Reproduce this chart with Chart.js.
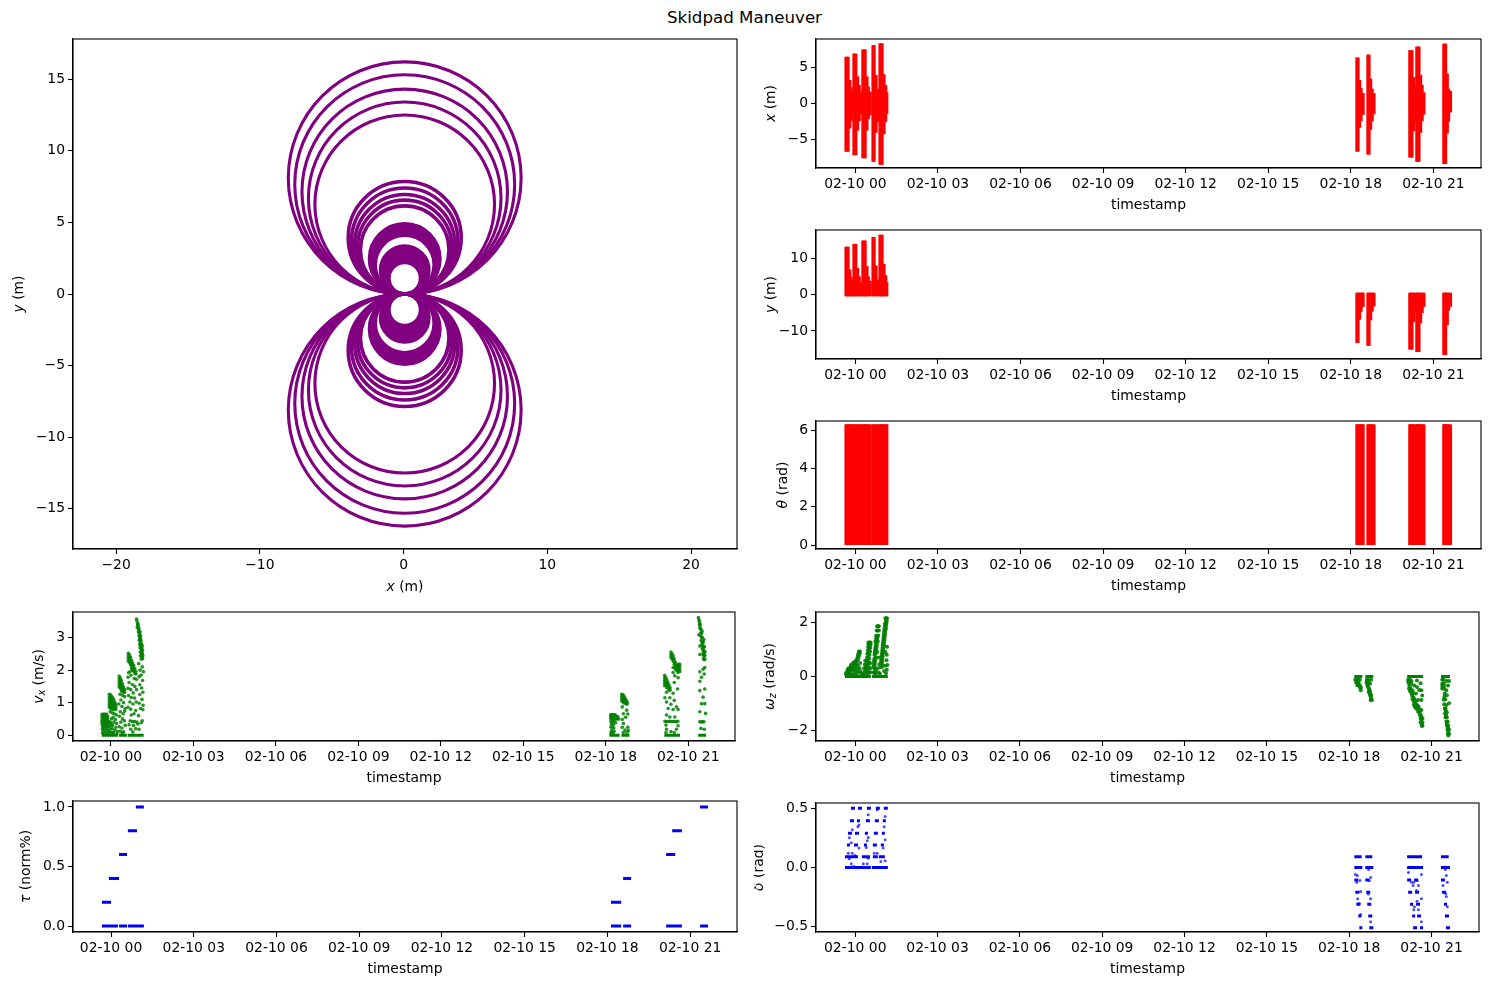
<!DOCTYPE html>
<html>
<head>
<meta charset="utf-8">
<title>Skidpad Maneuver</title>
<script src="https://cdn.jsdelivr.net/npm/chart.js@4"></script>
<style>
  body { margin: 0; background: #fff; width: 1489px; height: 985px; position: relative; overflow: hidden; }
  canvas { position: absolute; }
  #title { position: absolute; left: 0; width: 1489px; top: 8px; text-align: center; font: 16.67px "DejaVu Sans"; color: #000; }
</style>
</head>
<body>
<div id="title">Skidpad Maneuver</div>
<script>
// time axis, hours after 02-10 00:00
const hourTicks = [0, 3, 6, 9, 12, 15, 18, 21];
const hourLabels = ['02-10 00', '02-10 03', '02-10 06', '02-10 09', '02-10 12', '02-10 15', '02-10 18', '02-10 21'];

// trajectory circles, one row per lap, all through the origin
const circleX = [
  [.08,5.81,8.18,5.81,.08,-5.65,-8.02,-5.65],
  [.08,5.49,7.73,5.49,.08,-5.33,-7.57,-5.33],
  [.08,5.14,7.23,5.14,.08,-4.98,-7.07,-4.98],
  [.08,4.82,6.78,4.82,.08,-4.66,-6.62,-4.66],
  [.08,4.5,6.33,4.5,.08,-4.34,-6.17,-4.34],
  [.08,2.86,4.01,2.86,.08,-2.7,-3.85,-2.7],
  [.08,2.7,3.78,2.7,.08,-2.54,-3.62,-2.54],
  [.08,2.54,3.56,2.54,.08,-2.38,-3.4,-2.38],
  [.08,2.4,3.36,2.4,.08,-2.24,-3.2,-2.24],
  [.08,2.25,3.16,2.25,.08,-2.09,-3,-2.09],
  [.08,1.81,2.53,1.81,.08,-1.65,-2.37,-1.65],
  [.08,1.74,2.43,1.74,.08,-1.58,-2.27,-1.58],
  [.08,1.67,2.33,1.67,.08,-1.51,-2.17,-1.51],
  [.08,1.6,2.23,1.6,.08,-1.44,-2.07,-1.44],
  [.08,1.53,2.13,1.53,.08,-1.37,-1.97,-1.37],
  [.08,1.26,1.76,1.26,.08,-1.1,-1.6,-1.1],
  [.08,1.19,1.66,1.19,.08,-1.03,-1.5,-1.03],
  [.08,1.12,1.56,1.12,.08,-.96,-1.4,-.96],
  [.08,1.05,1.46,1.05,.08,-.89,-1.3,-.89],
  [.08,.98,1.36,.98,.08,-.82,-1.2,-.82],
  [.08,.91,1.26,.91,.08,-.75,-1.1,-.75],
  [.08,.86,1.18,.86,.08,-.7,-1.02,-.7]
];
const circleYUp = [
  [0,2.37,8.1,13.83,16.2,13.83,8.1,2.37],
  [0,2.24,7.65,13.06,15.3,13.06,7.65,2.24],
  [0,2.09,7.15,12.21,14.3,12.21,7.15,2.09],
  [0,1.96,6.7,11.44,13.4,11.44,6.7,1.96],
  [0,1.83,6.25,10.67,12.5,10.67,6.25,1.83],
  [0,1.15,3.93,6.7,7.85,6.7,3.93,1.15],
  [0,1.08,3.7,6.32,7.4,6.32,3.7,1.08],
  [0,1.02,3.48,5.93,6.95,5.93,3.48,1.02],
  [0,.96,3.28,5.59,6.55,5.59,3.28,.96],
  [0,.9,3.08,5.25,6.15,5.25,3.08,.9],
  [0,.72,2.45,4.18,4.9,4.18,2.45,.72],
  [0,.69,2.35,4.01,4.7,4.01,2.35,.69],
  [0,.66,2.25,3.84,4.5,3.84,2.25,.66],
  [0,.63,2.15,3.67,4.3,3.67,2.15,.63],
  [0,.6,2.05,3.5,4.1,3.5,2.05,.6],
  [0,.49,1.68,2.86,3.35,2.86,1.68,.49],
  [0,.46,1.58,2.69,3.15,2.69,1.58,.46],
  [0,.43,1.48,2.52,2.95,2.52,1.48,.43],
  [0,.4,1.38,2.35,2.75,2.35,1.38,.4],
  [0,.37,1.28,2.18,2.55,2.18,1.28,.37],
  [0,.34,1.18,2.01,2.35,2.01,1.18,.34],
  [0,.32,1.1,1.88,2.2,1.88,1.1,.32]
];
const circleYDown = [
  [0,-2.37,-8.1,-13.83,-16.2,-13.83,-8.1,-2.37],
  [0,-2.24,-7.65,-13.06,-15.3,-13.06,-7.65,-2.24],
  [0,-2.09,-7.15,-12.21,-14.3,-12.21,-7.15,-2.09],
  [0,-1.96,-6.7,-11.44,-13.4,-11.44,-6.7,-1.96],
  [0,-1.83,-6.25,-10.67,-12.5,-10.67,-6.25,-1.83],
  [0,-1.15,-3.93,-6.7,-7.85,-6.7,-3.93,-1.15],
  [0,-1.08,-3.7,-6.32,-7.4,-6.32,-3.7,-1.08],
  [0,-1.02,-3.48,-5.93,-6.95,-5.93,-3.48,-1.02],
  [0,-.96,-3.28,-5.59,-6.55,-5.59,-3.28,-.96],
  [0,-.9,-3.08,-5.25,-6.15,-5.25,-3.08,-.9],
  [0,-.72,-2.45,-4.18,-4.9,-4.18,-2.45,-.72],
  [0,-.69,-2.35,-4.01,-4.7,-4.01,-2.35,-.69],
  [0,-.66,-2.25,-3.84,-4.5,-3.84,-2.25,-.66],
  [0,-.63,-2.15,-3.67,-4.3,-3.67,-2.15,-.63],
  [0,-.6,-2.05,-3.5,-4.1,-3.5,-2.05,-.6],
  [0,-.49,-1.68,-2.86,-3.35,-2.86,-1.68,-.49],
  [0,-.46,-1.58,-2.69,-3.15,-2.69,-1.58,-.46],
  [0,-.43,-1.48,-2.52,-2.95,-2.52,-1.48,-.43],
  [0,-.4,-1.38,-2.35,-2.75,-2.35,-1.38,-.4],
  [0,-.37,-1.28,-2.18,-2.55,-2.18,-1.28,-.37],
  [0,-.34,-1.18,-2.01,-2.35,-2.01,-1.18,-.34],
  [0,-.32,-1.1,-1.88,-2.2,-1.88,-1.1,-.32]
];

// pose panels: the samples are so dense they read as vertical stripes
const stripeHours = [
  -.338,-.3,-.265,-.205,-.157,-.108,-.05,.014,.08,.14,.2,.275,.315,.352,.42,.47,.535,
  .642,.679,.75,.825,.896,.932,.969,1.04,1.1,1.14,
  18.223,18.26,18.32,18.37,18.42,18.445,
  18.623,18.66,18.72,18.775,18.84,
  20.145,20.182,20.22,20.28,20.335,20.4,20.437,20.474,20.535,20.59,20.655,
  21.38,21.415,21.442,21.503,21.55,21.62
];
const xHigh = [
  6.4,6.4,6.4,3.2,2.2,1.6,6.85,6.85,3.7,2.5,1.5,7.4,7.4,7.4,3.7,2.3,1.6,
  8,8,3.9,2,8.25,8.25,8.25,4,2.5,1.5,
  6.3,6.3,3.2,2.1,1.4,1.4,
  6.7,6.7,3.4,2,1.4,
  7.3,7.3,7.3,3.6,2.4,7.8,7.8,7.8,3.9,2.5,1.5,
  8.2,8.2,8.2,4.1,2,1.7
];
const xLow = [
  -6.6,-6.6,-6.6,-3.4,-2.4,-1.6,-7.1,-7.1,-3.7,-2.4,-1.4,-7.5,-7.5,-7.5,-3.7,-2.1,-1.6,
  -8,-8,-4,-2.5,-8.4,-8.4,-8.4,-4.2,-2.5,-1.4,
  -6.6,-6.6,-3.3,-2.4,-1.5,-1.5,
  -7,-7,-3.6,-2.4,-1.45,
  -7.4,-7.4,-7.4,-3.8,-2.5,-8,-8,-8,-4,-2.4,-1.5,
  -8.3,-8.3,-8.3,-4.1,-2.5,-1.2
];
const yHigh = [
  13,13,13,6.8,4.7,3.6,13.8,13.8,7.2,4.9,3.1,14.7,14.7,14.7,7.7,4.9,3.7,
  15.7,15.7,7.9,4,16.3,16.3,16.3,8.3,5.2,3.3,
  .4,.4,.4,.4,.4,.4,
  .4,.4,.4,.4,.4,
  .4,.4,.4,.4,.4,.4,.4,.4,.4,.4,.4,
  .4,.4,.4,.4,.4,.4
];
const yLow = [
  -.4,-.4,-.4,-.4,-.4,-.4,-.4,-.4,-.4,-.4,-.4,-.4,-.4,-.4,-.4,-.4,-.4,
  -.4,-.4,-.4,-.4,-.4,-.4,-.4,-.4,-.4,-.4,
  -13.2,-13.2,-6.8,-4.7,-3.3,-3.3,
  -14,-14,-7,-4.6,-3.2,
  -15,-15,-15,-7.5,-4.8,-15.7,-15.7,-15.7,-7.8,-5,-3.3,
  -16.5,-16.5,-16.5,-8.3,-4.3,-3.3
];
const thetaHigh = [
  6.28,6.28,6.28,6.28,6.28,6.28,6.28,6.28,6.28,6.28,6.28,6.28,6.28,6.28,6.28,6.28,6.28,
  6.28,6.28,6.28,6.28,6.28,6.28,6.28,6.28,6.28,6.28,
  6.28,6.28,6.28,6.28,6.28,6.28,
  6.28,6.28,6.28,6.28,6.28,
  6.28,6.28,6.28,6.28,6.28,6.28,6.28,6.28,6.28,6.28,6.28,
  6.28,6.28,6.28,6.28,6.28,6.28
];
const thetaLow = [
  0,0,0,0,0,0,0,0,0,0,0,0,0,0,0,0,0,
  0,0,0,0,0,0,0,0,0,0,
  0,0,0,0,0,0,
  0,0,0,0,0,
  0,0,0,0,0,0,0,0,0,0,0,
  0,0,0,0,0,0
];

// longitudinal speed samples [hour, m/s], morning runs then evening runs
const vxMorning = [
  [-.32,.64],[-.28,.64],[-.24,.64],[-.2,.64],[-.16,.64],[-.32,.58],[-.27,.58],[-.22,.58],[-.17,.58],[-.12,.58],
  [-.32,.52],[-.27,.52],[-.22,.52],[-.17,.52],[-.12,.52],[-.32,.46],[-.27,.46],[-.22,.46],[-.17,.46],[-.12,.46],
  [-.32,.4],[-.27,.4],[-.22,.4],[-.17,.4],[-.12,.4],[-.32,.34],[-.27,.34],[-.22,.34],[-.17,.34],[-.12,.34],
  [-.31,.27],[-.26,.24],[-.2,.27],[-.14,.24],[-.09,.3],[-.31,.18],[-.23,.16],[-.16,.19],[-.1,.14],[-.29,.1],
  [-.19,.09],[-.13,.06],[-.3,.06],[-.05,.41],[-.01,.38],[-.06,.27],[.02,.32],[-.03,.19],[.04,.2],[0,.09],[-.07,.1],[.05,.07],
  [-.06,1.26],[-.06,1.18],[-.06,1.1],[-.06,1.02],[-.06,.94],[-.06,.86],[-.02,1.24],[-.02,1.16],[-.02,1.08],[-.02,1],[-.02,.92],[-.02,.84],
  [.02,1.2],[.02,1.12],[.02,1.04],[.02,.96],[.02,.88],[.02,.8],[.06,1.15],[.06,1.07],[.06,.99],[.06,.91],[.06,.83],
  [.1,1.1],[.1,1.02],[.1,.94],[.1,.86],[.1,.78],[.14,1.02],[.14,.94],[.14,.86],[.18,.95],[.18,.87],[.18,.79],
  [-.03,.72],[.05,.68],[.12,.66],[.2,.62],[.08,.55],[.16,.48],[.02,.5],[.11,.4],[.21,.36],[.06,.3],[.18,.24],[.13,.16],[.23,.12],[.09,.08],[.22,.05],
  [.3,1.82],[.3,1.74],[.3,1.66],[.3,1.58],[.3,1.5],[.34,1.76],[.34,1.68],[.34,1.6],[.34,1.52],[.34,1.44],
  [.38,1.68],[.38,1.6],[.38,1.52],[.38,1.44],[.38,1.36],[.42,1.58],[.42,1.5],[.42,1.42],[.42,1.34],[.46,1.48],[.46,1.4],[.46,1.32],[.5,1.4],[.5,1.32],
  [.33,1.26],[.43,1.22],[.5,1.18],[.36,1.08],[.46,1],[.29,.96],[.4,.88],[.52,.82],[.34,.72],[.44,.66],[.5,.74],[.31,.58],[.42,.5],[.36,.4],[.49,.44],[.3,.26],[.4,.22],[.52,.3],[.34,.12],[.46,.1],[.42,.06],
  [.63,2.52],[.63,2.44],[.63,2.36],[.63,2.28],[.67,2.48],[.67,2.4],[.67,2.32],[.67,2.24],[.71,2.4],[.71,2.32],[.71,2.24],[.71,2.16],
  [.75,2.3],[.75,2.22],[.75,2.14],[.75,2.06],[.79,2.22],[.79,2.14],[.79,2.06],[.79,1.98],[.83,2.14],[.83,2.06],[.83,1.98],[.87,2.04],[.87,1.96],[.87,1.9],[.91,1.96],[.91,1.88],
  [.64,1.92],[.7,1.96],[.62,1.78],[.73,1.84],[.85,1.74],[.93,1.72],[.66,1.62],[.78,1.56],[.87,1.5],[.62,1.44],[.72,1.4],[.93,1.4],[.81,1.3],[.64,1.22],[.74,1.16],[.86,1.14],[.69,1.02],[.92,1.02],[.8,.96],[.62,.86],[.72,.8],[.9,.76],
  [.84,.66],[.74,.62],[1,.6],[.7,.44],[.78,.42],[.86,.42],[.94,.4],[.66,.32],[.82,.3],[.98,.34],[.72,.18],[.9,.2],[.8,.1],[1.02,.18],[1.1,.38],[1.14,.44],
  [.93,3.57],[.95,3.5],[.97,3.42],[.99,3.42],[.96,3.32],[.99,3.28],[1.02,3.3],[1,3.18],[1.03,3.16],[1.06,3.18],[1.02,3.05],[1.05,3.04],[1.08,3.06],[1.03,2.92],[1.06,2.92],[1.09,2.92],
  [1.05,2.8],[1.08,2.8],[1.11,2.8],[1.06,2.68],[1.09,2.68],[1.12,2.68],[1.07,2.56],[1.1,2.56],[1.13,2.56],[1.08,2.44],[1.11,2.44],[1.14,2.44],[1.15,2.35],[1.14,2.5],
  [.98,3.38],[1.01,3.24],[1.04,3.1],[1.07,2.98],[1.08,2.86],[1.1,2.74],[1.11,2.62],[1.12,2.5],[1.13,2.38],[1.1,2.34],[1.07,2.74],[1.05,2.98],[1.16,2.44],[1.15,2.62],[1.14,2.74],
  [1.01,2.2],[1.14,2.1],[1.06,2],[1.18,1.95],[1.03,1.8],[1.1,1.85],[1.15,1.68],[1.05,1.55],[1.12,1.45],[1.16,1.32],[1.05,1.25],[1.13,1.1],[1.03,.98],[1.17,.92],[1.08,.82],[1.16,.78]
];
const vxEvening = [
  [18.18,.63],[18.22,.63],[18.26,.63],[18.3,.63],[18.34,.63],[18.18,.57],[18.23,.57],[18.28,.57],[18.33,.57],[18.38,.57],[18.43,.57],
  [18.18,.5],[18.23,.5],[18.28,.5],[18.36,.5],[18.42,.5],[18.47,.5],
  [18.19,.42],[18.25,.4],[18.3,.44],[18.2,.34],[18.28,.32],[18.18,.25],[18.24,.24],[18.29,.22],[18.36,.38],[18.21,.14],[18.3,.12],[18.19,.07],[18.27,.07],
  [18.58,1.26],[18.58,1.19],[18.58,1.12],[18.58,1.05],[18.62,1.24],[18.62,1.17],[18.62,1.1],[18.62,1.03],[18.66,1.2],[18.66,1.13],[18.66,1.06],[18.66,.99],
  [18.7,1.14],[18.7,1.07],[18.7,1],[18.74,1.08],[18.74,1.01],[18.74,.96],[18.78,1.02],[18.78,.96],
  [18.6,.87],[18.76,.77],[18.64,.66],[18.8,.65],[18.6,.48],[18.72,.55],[18.64,.36],[18.8,.24],[18.6,.24],[18.7,.16],[18.82,.14],[18.64,.08],[18.77,.08],
  [20.14,1.84],[20.14,1.76],[20.14,1.68],[20.14,1.6],[20.14,1.52],[20.18,1.78],[20.18,1.7],[20.18,1.62],[20.18,1.54],
  [20.22,1.7],[20.22,1.62],[20.22,1.54],[20.22,1.46],[20.26,1.62],[20.26,1.54],[20.26,1.46],[20.3,1.54],[20.3,1.46],[20.3,1.38],[20.34,1.46],[20.34,1.38],
  [20.21,1.32],[20.45,1.29],[20.15,1.15],[20.33,1.15],[20.49,1.07],[20.21,1.02],[20.37,.95],[20.57,.87],[20.27,.82],[20.45,.79],[20.63,.79],[20.21,.62],[20.51,.56],[20.33,.56],
  [20.15,.43],[20.2,.42],[20.27,.42],[20.32,.43],[20.38,.42],[20.44,.42],[20.5,.42],[20.57,.41],[20.62,.43],[20.19,.31],[20.63,.29],[20.21,.18],[20.57,.18],[20.37,.11],[20.19,.08],[20.49,.08],
  [20.37,2.56],[20.37,2.48],[20.37,2.4],[20.41,2.5],[20.41,2.42],[20.41,2.34],[20.45,2.44],[20.45,2.36],[20.45,2.28],[20.49,2.34],[20.49,2.26],[20.49,2.18],
  [20.53,2.24],[20.53,2.16],[20.53,2.08],[20.57,2.16],[20.57,2.08],[20.57,2],[20.61,2.14],[20.61,2.06],[20.61,1.98],[20.65,2.18],[20.65,2.1],[20.65,2.02],[20.65,1.96],[20.69,2.18],[20.69,2.1],[20.69,2.02],[20.69,1.96],
  [20.45,2.08],[20.54,2.03],[20.45,1.93],[20.63,1.93],[20.51,1.83],[20.63,1.77],[20.49,1.62],[20.61,1.42],
  [21.37,3.62],[21.39,3.55],[21.4,3.5],[21.42,3.44],[21.41,3.4],[21.43,3.38],[21.44,3.28],[21.46,3.26],[21.46,3.15],[21.49,3.14],[21.48,3.02],[21.51,3],[21.5,2.88],[21.53,2.88],
  [21.52,2.74],[21.55,2.74],[21.54,2.6],[21.57,2.6],[21.56,2.45],[21.59,2.46],[21.58,2.32],[21.61,2.34],[21.6,2.45],[21.58,2.55],[21.56,2.7],[21.54,2.85],
  [21.42,3.3],[21.45,3.06],[21.47,2.92],[21.49,2.8],[21.51,2.66],[21.53,2.5],[21.55,2.36],[21.57,2.94],[21.59,2.72],[21.61,2.56],[21.5,3.2],
  [21.42,2.48],[21.42,2.74],[21.38,3.09],[21.54,2.03],[21.6,2.08],[21.42,1.95],[21.58,1.88],[21.48,1.78],[21.42,1.66],[21.6,1.42],[21.42,1.37],[21.54,1.17],[21.48,.97],[21.6,.97],[21.42,.72],[21.63,.67],
  [21.42,.41],[21.47,.41],[21.52,.41],[21.57,.41],[21.46,.21],[21.58,.18]
];
const vxRestStart = [-.33,.29,.61,18.13,18.57,20.13,21.36];
const vxRestEnd = [.25,.58,1.19,18.5,18.86,20.7,21.65];
const vxRestLevel = [0,0,0,0,0,0,0];

// yaw rate samples [hour, rad/s]
const wzMorning = [
  [-.34,.08],[-.3,.08],[-.26,.08],[-.22,.08],[-.18,.08],[-.14,.08],[-.1,.08],[-.06,.08],[-.32,.16],[-.28,.16],[-.24,.2],[-.2,.2],[-.16,.24],[-.12,.24],[-.08,.24],
  [-.28,.26],[-.24,.3],[-.2,.3],[-.16,.34],[-.12,.34],[-.08,.34],[-.04,.34],[-.16,.42],[-.12,.42],[-.08,.42],[-.04,.46],[0,.46],[.04,.46],[-.08,.5],[-.04,.52],[0,.56],[.04,.56],
  [.06,.62],[.1,.62],[.08,.7],[.12,.7],[.1,.78],[.14,.78],[.12,.86],[.16,.86],[.13,.92],[.17,.92],[0,.2],[.04,.12],[.08,.24],[.12,.14],[.16,.3],[.1,.4],[.18,.5],[.02,.32],[.2,.18],[.24,.1],
  [.3,.08],[.34,.14],[.36,.22],[.4,.16],[.44,.1],[.38,.34],[.42,.3],[.46,.24],[.5,.14],[.4,.46],[.44,.44],[.48,.36],[.42,.58],[.46,.58],[.5,.5],[.43,.7],[.47,.72],[.51,.66],[.44,.84],[.48,.84],[.52,.8],
  [.46,.96],[.5,.96],[.54,.92],[.47,1.08],[.51,1.08],[.55,1.06],[.48,1.18],[.52,1.18],[.56,1.18],[.48,1.25],[.52,1.25],[.56,1.25],[.32,.3],[.35,.44],[.36,.58],[.55,.3],[.54,.5],[.55,.16],
  [.86,1.85],[.8,1.85],[.83,1.85],[.78,1.7],[.82,1.7],[.86,1.7],[.76,1.5],[.8,1.5],[.84,1.5],[.74,1.3],[.78,1.3],[.82,1.3],[.74,1.1],[.78,1.1],[.72,.95],[.76,.95],[.7,.8],[.74,.7],[.68,.55],[.72,.5],[.66,.35],[.7,.3],[.66,.16],[.7,.12],
  [.76,1.4],[.8,1.4],[.75,1.2],[.79,1.2],[.73,1.02],[.77,1.02],[.71,.88],[.75,.85],[.69,.65],[.73,.6],[.67,.45],[.71,.4],
  [1.16,2.15],[1.1,2.15],[1.13,2.15],[1.14,1.95],[1.08,1.95],[1.11,1.95],[1.12,1.75],[1.06,1.75],[1.09,1.75],[1.04,1.55],[1.09,1.55],[1.02,1.35],[1.07,1.35],[1,1.15],[1.05,1.15],[.98,.95],[1.03,.95],[.96,.75],[1,.75],[.94,.55],[.98,.55],[.93,.35],[.97,.35],
  [1.12,2.05],[1.15,2.05],[1.08,1.85],[1.12,1.85],[1.05,1.65],[1.09,1.65],[1.03,1.45],[1.07,1.45],[1.01,1.25],[1.05,1.25],[.99,1.05],[1.03,1.05],[.97,.85],[1.01,.85],[.95,.65],[.99,.65],[.94,.45],[.98,.45],
  [1.1,.9],[1.14,.6],[1.08,.4],[1.15,.25],[.85,.7],[.88,.45],[.82,.3],[.86,.15],[1.05,.2],[1.12,.12],[.9,.1],[.76,.12],[1.16,1.1],[1.15,.8],[1.17,.42],[.8,.9],[.75,.22]
];
const wzEvening = [
  [18.22,-.12],[18.27,-.12],[18.32,-.12],[18.39,-.12],[18.25,-.22],[18.3,-.22],[18.34,-.22],[18.3,-.32],[18.34,-.32],[18.39,-.32],[18.39,-.41],[18.43,-.41],[18.42,-.51],
  [18.64,-.12],[18.69,-.12],[18.8,-.12],[18.63,-.22],[18.71,-.22],[18.76,-.27],[18.68,-.36],[18.73,-.46],[18.71,-.56],[18.76,-.56],[18.76,-.68],[18.8,-.68],[18.8,-.8],[18.83,-.87],[18.78,-.87],
  [18.66,-.3],[18.7,-.42],[18.74,-.52],[18.74,-.62],[18.78,-.74],[18.66,-.16],
  [20.15,-.12],[20.21,-.12],[20.27,-.17],[20.47,-.15],[20.18,-.27],[20.26,-.27],[20.37,-.33],[20.63,-.51],[20.18,-.45],[20.24,-.45],[20.47,-.39],[20.27,-.63],[20.33,-.63],[20.43,-.63],[20.63,-.87],[20.35,-.78],[20.43,-.93],[20.35,-.93],[20.51,-.87],[20.39,-1.12],[20.47,-1.18],[20.63,-1.24],[20.51,-1.3],[20.57,-1.3],[20.57,-1.42],[20.63,-1.48],[20.63,-1.6],[20.64,-1.72],[20.64,-1.82],
  [20.22,-.54],[20.29,-.72],[20.4,-1.02],[20.43,-1.05],[20.44,-1.18],[20.54,-1.2],[20.6,-1.4],[20.67,-1.55],[20.6,-1.55],[20.67,-1.7],[20.6,-1.7],[20.67,-1.82],[20.6,-.25],[20.55,-.5],[20.66,-.7],
  [20.15,-.2],[20.2,-.36],[20.31,-.52],[20.31,-.84],[20.39,-.86],[20.36,-1.05],[20.48,-1.06],[20.53,-1.12],
  [21.39,-.12],[21.44,-.12],[21.54,-.17],[21.64,-.17],[21.39,-.27],[21.45,-.27],[21.6,-.33],[21.39,-.44],[21.45,-.44],[21.54,-.51],[21.48,-.63],[21.56,-.69],[21.44,-.85],[21.5,-.85],[21.54,-1.05],[21.64,-.99],[21.48,-1.18],[21.51,-1.18],[21.56,-1.33],[21.49,-1.36],[21.51,-1.5],[21.56,-1.5],[21.54,-1.66],[21.59,-1.66],[21.56,-1.82],[21.61,-1.82],[21.58,-1.96],[21.64,-1.96],[21.59,-2.11],[21.64,-2.11],[21.61,-2.18],
  [21.39,-.35],[21.45,-.36],[21.47,-.74],[21.46,-1.02],[21.52,-1.26],[21.53,-1.42],[21.56,-1.74],[21.6,-1.9],[21.61,-2.04]
];
const wzRestStart = [-.374,.606,18.187,18.587,20.111,21.345];
const wzRestEnd = [.57,1.187,18.478,18.877,20.692,21.672];
const wzRestLevel = [0,0,0,0,0,0];

// throttle commands hold steady, so they read as short dashes
const tauStart = [-.33,-.08,.29,.61,.9,18.13,18.57,20.13,20.35,21.36,-.33,.29,.61,18.13,18.57,20.13,21.36];
const tauEnd = [0,.29,.58,.94,1.19,18.5,18.86,20.46,20.7,21.65,.25,.58,1.19,18.5,18.86,20.7,21.65];
const tauLevel = [.2,.4,.6,.8,1,.2,.4,.6,.8,1,0,0,0,0,0,0,0];

// steering command holds
const deltaStart = [
  -.156,.098,.425,.751,1.042, -.193,.062,.388,.715,1.005, -.265,-.011,.352,.679,.969,
  -.301,-.047,.316,.642,.933, -.374,.243,.642,.86, -.374,.606,
  18.187,18.587,20.111,21.345, 18.187,18.587,20.111,21.345,
  18.187,18.587,20.111,20.365,21.345, 18.223,18.623,20.148,20.402,21.382,
  18.26,18.659,20.22,20.438,21.454, 18.333,18.696,20.293,20.474,21.491,
  18.369,18.732,20.329,20.583,21.527
];
const deltaEnd = [
  -.011,.243,.57,.897,1.187, -.047,.171,.534,.86,1.114, -.12,.134,.461,.824,1.078,
  -.193,.098,.425,.788,1.042, .098,.534,.824,1.078, .57,1.187,
  18.454,18.84,20.656,21.624, 18.478,18.877,20.692,21.672,
  18.333,18.732,20.256,20.511,21.491, 18.369,18.768,20.293,20.547,21.527,
  18.405,18.804,20.329,20.583,21.563, 18.441,18.84,20.402,20.619,21.636,
  18.478,18.877,20.474,20.692,21.672
];
const deltaLevel = [
  .5,.5,.5,.5,.5, .395,.395,.395,.395,.395, .29,.29,.29,.29,.29,
  .19,.19,.19,.19,.19, .09,.09,.09,.09, 0,0,
  .09,.09,.09,.09, 0,0,0,0,
  -.105,-.105,-.105,-.105,-.105, -.21,-.21,-.21,-.21,-.21,
  -.31,-.31,-.31,-.31,-.31, -.41,-.41,-.41,-.41,-.41,
  -.51,-.51,-.51,-.51,-.51
];
const deltaDots = [
  [.473,.446],[1.09,.43],[.134,.36],[.098,.345],[-.108,.32],[1.054,.345],[.473,.254],[.437,.226],[-.217,.251],[1.09,.234],[-.144,.209],[.134,.164],[.4,.17],[1.017,.164],
  [-.253,.121],[-.108,.121],[.691,.121],[.8,.121],[-.011,.102],[.473,.079],[-.217,.073],[.933,.051],[1.09,.056],[-.144,.031],[.292,.031],[.437,.031],[.8,.489],[-.047,.008],
  [18.223,-.059],[18.296,-.068],[18.708,-.017],[18.78,-.085],[18.393,-.11],[18.272,-.124],[18.732,-.11],[18.417,-.203],[18.696,-.223],[18.308,-.263],[18.78,-.263],[18.369,-.305],[18.417,-.398],[18.78,-.458],
  [20.16,-.042],[20.632,-.059],[20.269,-.124],[20.474,-.11],[20.353,-.124],[20.329,-.153],[20.523,-.153],[20.45,-.195],[20.632,-.263],[20.474,-.285],[20.377,-.331],[20.353,-.356],[20.523,-.356],[20.632,-.458],
  [21.503,-.017],[21.539,-.068],[21.575,-.124],[21.418,-.153],[21.515,-.22],[21.539,-.246],[21.575,-.331]
];

const PURPLE = '#800080', RED = '#ff0000', GREEN = '#008000', BLUE = '#0000ff';
const FONT = '"DejaVu Sans"';
const FONT_SIZE = 13.9;
const MARGIN_LEFT = 62, MARGIN_BOTTOM = 46, MARGIN_EDGE = 2;

Chart.defaults.font.family = FONT;
Chart.defaults.font.size = FONT_SIZE;
Chart.defaults.color = '#000';
Chart.defaults.animation = false;

// mixed italic/subscript axis labels, plus the two spines Chart.js leaves out
const framePlugin = {
  id: 'frame',
  afterDatasetsDraw(chart, args, opts) {
    const { ctx, chartArea: a } = chart;
    ctx.save();
    ctx.strokeStyle = '#000';
    ctx.lineWidth = 1.1;
    ctx.strokeRect(a.left, a.top, a.right - a.left, a.bottom - a.top);
    ctx.restore();
    if (opts.yLabel) drawMathLabel(ctx, opts.yLabel, a.left - opts.yOffset, (a.top + a.bottom) / 2, true);
    if (opts.xLabel) drawMathLabel(ctx, opts.xLabel, (a.left + a.right) / 2, a.bottom + 38, false);
  }
};

function partFont(p) {
  return (p.it ? 'italic ' : '') + (p.sub ? FONT_SIZE * 0.7 : FONT_SIZE) + 'px ' + FONT;
}

function drawMathLabel(ctx, parts, cx, cy, vertical) {
  ctx.save();
  ctx.fillStyle = '#000';
  ctx.textBaseline = 'middle';
  ctx.textAlign = 'left';
  let total = 0;
  parts.forEach(p => { ctx.font = partFont(p); total += ctx.measureText(p.t).width; });
  ctx.translate(cx, cy);
  if (vertical) ctx.rotate(-Math.PI / 2);
  let pos = -total / 2;
  parts.forEach(p => {
    ctx.font = partFont(p);
    ctx.fillText(p.t, pos, p.sub ? 3 : 0);
    pos += ctx.measureText(p.t).width;
  });
  ctx.restore();
}

function axisBase(min, max, tickValues, tickLabels) {
  return {
    type: 'linear', min, max, offset: false,
    afterBuildTicks(s) { s.ticks = tickValues.map(value => ({ value })); },
    ticks: {
      autoSkip: false, maxRotation: 0, minRotation: 0, padding: 3, color: '#000',
      callback: (v, i) => tickLabels[i]
    },
    grid: { offset: false, drawOnChartArea: false, drawTicks: true, tickLength: 5, tickWidth: 1.1, tickColor: '#000' },
    border: { display: true, color: '#000', width: 1.1 }
  };
}

function noScalePadding(s) {
  s.paddingTop = 0; s.paddingBottom = 0; s.paddingLeft = 0; s.paddingRight = 0;
}

function panel(box, type, datasets, axes, labels) {
  const cv = document.createElement('canvas');
  const w = MARGIN_LEFT + box.w + MARGIN_EDGE, h = MARGIN_EDGE + box.h + MARGIN_BOTTOM;
  cv.width = w; cv.height = h;
  cv.style.left = (box.x - MARGIN_LEFT) + 'px';
  cv.style.top = (box.y - MARGIN_EDGE) + 'px';
  cv.style.width = w + 'px'; cv.style.height = h + 'px';
  document.body.appendChild(cv);
  const x = axes.x, y = axes.y;
  x.afterFit = s => { s.height = MARGIN_BOTTOM; noScalePadding(s); };
  y.afterFit = s => { s.width = MARGIN_LEFT; noScalePadding(s); };
  if (labels.xTitle) x.title = { display: true, text: labels.xTitle, padding: { top: 0, bottom: 0 }, color: '#000' };
  return new Chart(cv, {
    type,
    data: { datasets },
    options: {
      responsive: false, devicePixelRatio: 1, animation: false,
      layout: { padding: { top: MARGIN_EDGE, right: MARGIN_EDGE, left: 0, bottom: 0 } },
      scales: { x, y },
      plugins: {
        legend: { display: false }, tooltip: { enabled: false },
        frame: { yLabel: labels.y, yOffset: labels.yOffset, xLabel: labels.x }
      }
    },
    plugins: [framePlugin]
  });
}

function circleDataset(xs, ys, width) {
  // wrap round so the spline has neighbours at the seam, and hide the two end pieces
  const order = [7, 0, 1, 2, 3, 4, 5, 6, 7, 0, 1];
  return {
    type: 'scatter', showLine: true, tension: 0.375, pointRadius: 0, borderWidth: width, borderColor: PURPLE,
    data: order.map(i => ({ x: xs[i], y: ys[i] })),
    segment: { borderColor: c => (c.p0DataIndex === 0 || c.p1DataIndex === order.length - 1) ? 'rgba(0,0,0,0)' : undefined }
  };
}

function stripeDataset(high, low) {
  return {
    type: 'bar', backgroundColor: RED, barThickness: 2.6, borderSkipped: false, borderWidth: 0,
    data: stripeHours.map((h, i) => ({ x: h, y: [low[i], high[i]] }))
  };
}

function dotDataset(rows, color, radius) {
  return {
    type: 'scatter', pointRadius: radius, pointBorderWidth: 0, pointBackgroundColor: color,
    data: rows.map(r => ({ x: r[0], y: r[1] }))
  };
}

function dashDataset(starts, ends, levels, color) {
  const pts = [];
  starts.forEach((s, i) => {
    pts.push({ x: s, y: levels[i] }, { x: ends[i], y: levels[i] }, { x: ends[i], y: null });
  });
  return { type: 'scatter', showLine: true, pointRadius: 0, borderWidth: 3, borderColor: color, data: pts };
}

const leftHourAxis = () => axisBase(-1.38, 22.7, hourTicks, hourLabels);
const rightHourAxis = () => axisBase(-1.43, 22.73, hourTicks, hourLabels);

const LEFT = { x: 73, w: 664 }, RIGHT = { x: 816, w: 665 };

// the five largest laps are drawn a touch finer than the tighter ones
const lapWidth = i => (i < 5 ? 3.1 : 3.6);

// trajectory
panel({ ...LEFT, y: 39, h: 510 }, 'scatter',
  [...circleX.map((xs, i) => circleDataset(xs, circleYUp[i], lapWidth(i))), ...circleX.map((xs, i) => circleDataset(xs, circleYDown[i], lapWidth(i)))],
  {
    x: axisBase(-23, 23.2, [-20, -10, 0, 10, 20], ['\u221220', '\u221210', '0', '10', '20']),
    y: axisBase(-17.8, 17.8, [-15, -10, -5, 0, 5, 10, 15], ['\u221215', '\u221210', '\u22125', '0', '5', '10', '15'])
  },
  { x: [{ t: 'x', it: true }, { t: ' (m)' }], y: [{ t: 'y', it: true }, { t: ' (m)' }], yOffset: 54 });

// pose
panel({ ...RIGHT, y: 39, h: 129 }, 'bar', [stripeDataset(xHigh, xLow)],
  { x: rightHourAxis(), y: axisBase(-8.9, 8.9, [-5, 0, 5], ['\u22125', '0', '5']) },
  { xTitle: 'timestamp', y: [{ t: 'x', it: true }, { t: ' (m)' }], yOffset: 45 });
panel({ ...RIGHT, y: 230, h: 129 }, 'bar', [stripeDataset(yHigh, yLow)],
  { x: rightHourAxis(), y: axisBase(-17.7, 17.7, [-10, 0, 10], ['\u221210', '0', '10']) },
  { xTitle: 'timestamp', y: [{ t: 'y', it: true }, { t: ' (m)' }], yOffset: 45 });
panel({ ...RIGHT, y: 421, h: 128 }, 'bar', [stripeDataset(thetaHigh, thetaLow)],
  { x: rightHourAxis(), y: axisBase(-.2, 6.47, [0, 2, 4, 6], ['0', '2', '4', '6']) },
  { xTitle: 'timestamp', y: [{ t: '\u03b8', it: true }, { t: ' (rad)' }], yOffset: 33 });

// velocities
panel({ ...LEFT, y: 610, h: 131 }, 'scatter',
  [dotDataset(vxMorning, 'rgba(0,128,0,0.85)', 1.8), dotDataset(vxEvening, 'rgba(0,128,0,0.85)', 1.8), dashDataset(vxRestStart, vxRestEnd, vxRestLevel, GREEN)],
  { x: leftHourAxis(), y: axisBase(-.18, 3.79, [0, 1, 2, 3], ['0', '1', '2', '3']) },
  { xTitle: 'timestamp', y: [{ t: 'v', it: true }, { t: 'x', it: true, sub: true }, { t: ' (m/s)' }], yOffset: 34 });
panel({ ...RIGHT, y: 610, h: 131 }, 'scatter',
  [dotDataset(wzMorning, 'rgba(0,128,0,0.9)', 2), dotDataset(wzEvening, 'rgba(0,128,0,0.9)', 2), dashDataset(wzRestStart, wzRestEnd, wzRestLevel, GREEN)],
  { x: rightHourAxis(), y: axisBase(-2.38, 2.38, [-2, 0, 2], ['\u22122', '0', '2']) },
  { xTitle: 'timestamp', y: [{ t: '\u03c9', it: true }, { t: 'z', it: true, sub: true }, { t: ' (rad/s)' }], yOffset: 46 });

// controls
panel({ ...LEFT, y: 801, h: 131 }, 'scatter',
  [dashDataset(tauStart, tauEnd, tauLevel, BLUE)],
  { x: leftHourAxis(), y: axisBase(-.05, 1.05, [0, .5, 1], ['0.0', '0.5', '1.0']) },
  { xTitle: 'timestamp', y: [{ t: '\u03c4', it: true }, { t: ' (norm%)' }], yOffset: 47 });
panel({ ...RIGHT, y: 801, h: 131 }, 'scatter',
  [dotDataset(deltaDots, 'rgba(0,0,255,0.7)', 1.5), dashDataset(deltaStart, deltaEnd, deltaLevel, BLUE)],
  { x: rightHourAxis(), y: axisBase(-.545, .545, [-.5, 0, .5], ['\u22120.5', '0.0', '0.5']) },
  { xTitle: 'timestamp', y: [{ t: '\u03b4', it: true }, { t: ' (rad)' }], yOffset: 57 });
</script>
</body>
</html>
